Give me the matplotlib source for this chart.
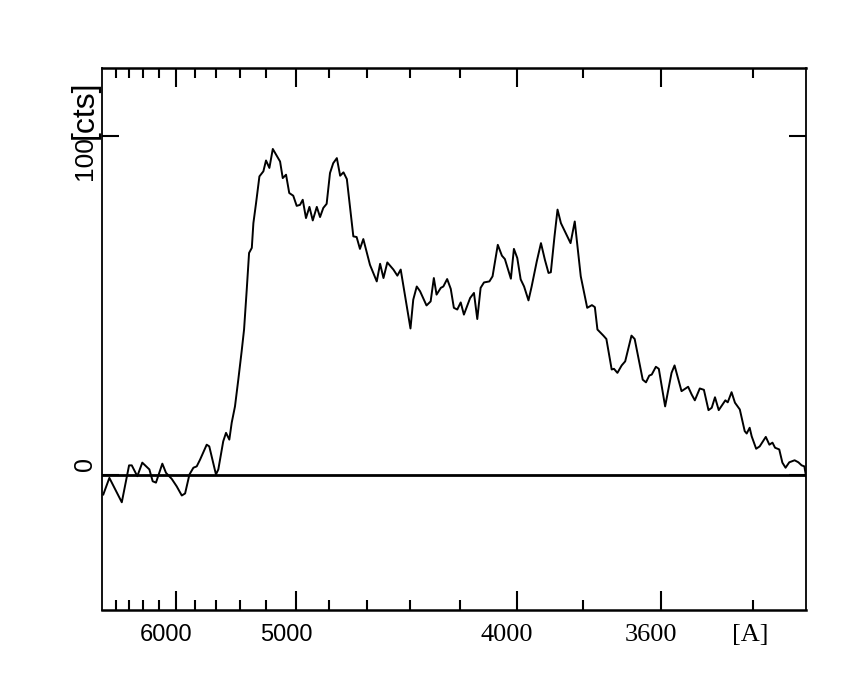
import numpy as np
import matplotlib
matplotlib.use("Agg")
import matplotlib.pyplot as plt
from matplotlib.ticker import FixedLocator, NullFormatter
from matplotlib.transforms import ScaledTranslation, blended_transform_factory

# wavelength [A] and counts
wavelength = [7007, 6903, 6704, 6595, 6556, 6478, 6410, 6317, 6275, 6234,
              6157, 6114, 6048, 5993, 5938, 5903, 5858, 5818, 5785, 5752,
              5689, 5665, 5604, 5583, 5540, 5516, 5488, 5468, 5441, 5414,
              5387, 5368, 5347, 5329, 5308, 5296, 5276, 5251, 5222, 5203,
              5179, 5155, 5105, 5087, 5065, 5044, 5018, 4996, 4975, 4958,
              4938, 4917, 4897, 4873, 4854, 4835, 4816, 4797, 4779, 4759,
              4741, 4723, 4705, 4671, 4654, 4637, 4620, 4587, 4554, 4538,
              4522, 4504, 4476, 4458, 4443, 4400, 4388, 4373, 4359, 4332,
              4315, 4302, 4291, 4274, 4264, 4249, 4235, 4223, 4210, 4197,
              4185, 4162, 4148, 4136, 4124, 4112, 4093, 4082, 4064, 4050,
              4040, 4020, 4010, 3999, 3988, 3977, 3963, 3953, 3937, 3924,
              3912, 3901, 3894, 3883, 3874, 3864, 3836, 3824, 3807, 3789,
              3776, 3768, 3761, 3745, 3737, 3723, 3717, 3708, 3697, 3688,
              3672, 3664, 3644, 3636, 3628, 3622, 3612, 3605, 3590, 3575,
              3568, 3552, 3537, 3529, 3522, 3511, 3502, 3492, 3485, 3478,
              3470, 3456, 3451, 3443, 3436, 3426, 3416, 3412, 3406, 3402,
              3393, 3386, 3374, 3367, 3361, 3356, 3348, 3342, 3336, 3329,
              3319, 3312, 3306, 3301, 3298]
counts = [-5.9, -1.0, -8.2, 2.7, 2.7, -0.5, 3.5, 1.5, -2.0, -2.4,
          3.2, 0.5, -1.3, -3.5, -6.2, -5.6, 0.0, 2.0, 2.4, 4.4,
          8.8, 8.3, 0.0, 1.5, 9.8, 12.3, 10.3, 15.3, 20.1, 28.0,
          36.4, 42.8, 54.6, 65.4, 66.9, 74.2, 80.1, 88.0, 89.5, 92.7,
          90.5, 96.1, 92.4, 87.5, 88.5, 83.1, 82.3, 79.3, 79.6, 81.1,
          75.7, 79.0, 75.0, 79.0, 76.0, 78.7, 79.9, 89.0, 91.9, 93.4,
          88.2, 89.2, 87.2, 70.3, 70.1, 66.6, 69.5, 61.9, 57.0, 62.2,
          58.0, 62.6, 60.5, 58.7, 60.5, 43.1, 51.6, 55.5, 54.1, 49.9,
          51.1, 58.0, 53.1, 55.1, 55.5, 57.7, 54.8, 49.2, 48.7, 50.8,
          47.2, 52.1, 53.6, 45.9, 55.1, 56.7, 57.0, 58.5, 67.8, 64.6,
          63.6, 57.8, 66.6, 63.9, 57.6, 55.5, 51.4, 55.5, 62.9, 68.3,
          63.4, 59.5, 59.7, 70.3, 78.2, 74.2, 68.3, 74.7, 58.5, 49.2,
          50.0, 49.4, 42.8, 41.0, 40.0, 31.0, 31.2, 30.0, 32.2, 33.4,
          41.0, 40.0, 28.0, 27.2, 29.2, 29.5, 31.8, 31.2, 20.1, 30.0,
          32.2, 24.6, 25.9, 23.6, 21.9, 25.4, 25.0, 19.0, 19.7, 22.8,
          19.0, 21.9, 21.3, 24.3, 21.2, 19.2, 12.8, 12.1, 13.8, 11.3,
          7.6, 8.3, 11.1, 8.8, 9.4, 7.9, 7.4, 3.5, 2.0, 3.6,
          4.2, 3.6, 2.7, 2.4, -0.5]

major_ticks = [6000, 5000, 4000, 3600]
major_labels = ["6000", "5000", "4000", "3600"]
label_fonts = ["Liberation Sans", "Liberation Sans", "Liberation Serif", "Liberation Serif"]
minor_ticks = [6800, 6600, 6400, 6200, 5800, 5600, 5400, 5200, 4800, 4600,
               4400, 4200, 3800, 3400]


def fwd(x):
    x = np.asarray(x, dtype=float)
    with np.errstate(divide="ignore", invalid="ignore"):
        return -1e8 / x ** 2


def inv(u):
    u = np.asarray(u, dtype=float)
    with np.errstate(divide="ignore", invalid="ignore"):
        return 1e4 / np.sqrt(-u)


fig = plt.figure(figsize=(8.5, 6.8), dpi=100)
ax = fig.add_axes([102 / 850, 1 - 610 / 680, (806 - 102) / 850, (610 - 68) / 680])
ax.set_xscale("function", functions=(fwd, inv))
ax.set_xlim(7030, 3298)
ax.set_ylim(-40, 120)

ax.plot(wavelength, counts, color="black", lw=1.4)
ax.axhline(0, color="black", lw=2.0)

ax.xaxis.set_major_locator(FixedLocator(major_ticks))
ax.xaxis.set_minor_locator(FixedLocator(minor_ticks))
ax.xaxis.set_major_formatter(NullFormatter())
ax.xaxis.set_minor_formatter(NullFormatter())
ax.yaxis.set_major_locator(FixedLocator([0, 100]))
ax.yaxis.set_major_formatter(NullFormatter())
ax.yaxis.set_minor_locator(FixedLocator([]))

ax.tick_params(axis="x", which="major", direction="in", length=14, width=1.5,
               top=True, bottom=True)
ax.tick_params(axis="x", which="minor", direction="in", length=7, width=1.5,
               top=True, bottom=True)
ax.tick_params(axis="y", which="major", direction="in", length=12, width=1.5,
               left=True, right=True)

for side in ["top", "bottom"]:
    ax.spines[side].set_linewidth(1.8)
for side in ["left", "right"]:
    ax.spines[side].set_linewidth(1.3)

# x tick labels (shifted slightly left as in the reference)
xtrans = blended_transform_factory(ax.transData, ax.transAxes)
shift = ScaledTranslation(-10 / 100, 0, fig.dpi_scale_trans)
for t, lab, fam in zip(major_ticks, major_labels, label_fonts):
    size = 17 if fam == "Liberation Sans" else 19
    ax.text(t, -0.046, lab, transform=xtrans + shift, ha="center", va="center",
            fontsize=size, family=fam)
ax.text(3400, -0.046, "[A]", transform=xtrans + ScaledTranslation(-2 / 100, 0, fig.dpi_scale_trans),
        ha="center", va="center", fontsize=19, family="Liberation Serif")

# y labels
ytrans = blended_transform_factory(ax.transAxes, ax.transData)
xoff = -17 / 704
ax.text(xoff, 3.2, "0", transform=ytrans, rotation=90, ha="center", va="center",
        fontsize=18, family="Liberation Sans")
ax.text(xoff, 100, "100", transform=ytrans, rotation=90, ha="center", va="top",
        fontsize=19, family="Liberation Sans")
ax.text(xoff, 99, "[cts]", transform=ytrans, rotation=90, ha="center", va="bottom",
        fontsize=23, family="Liberation Sans")

fig.savefig("out.png", dpi=100)
